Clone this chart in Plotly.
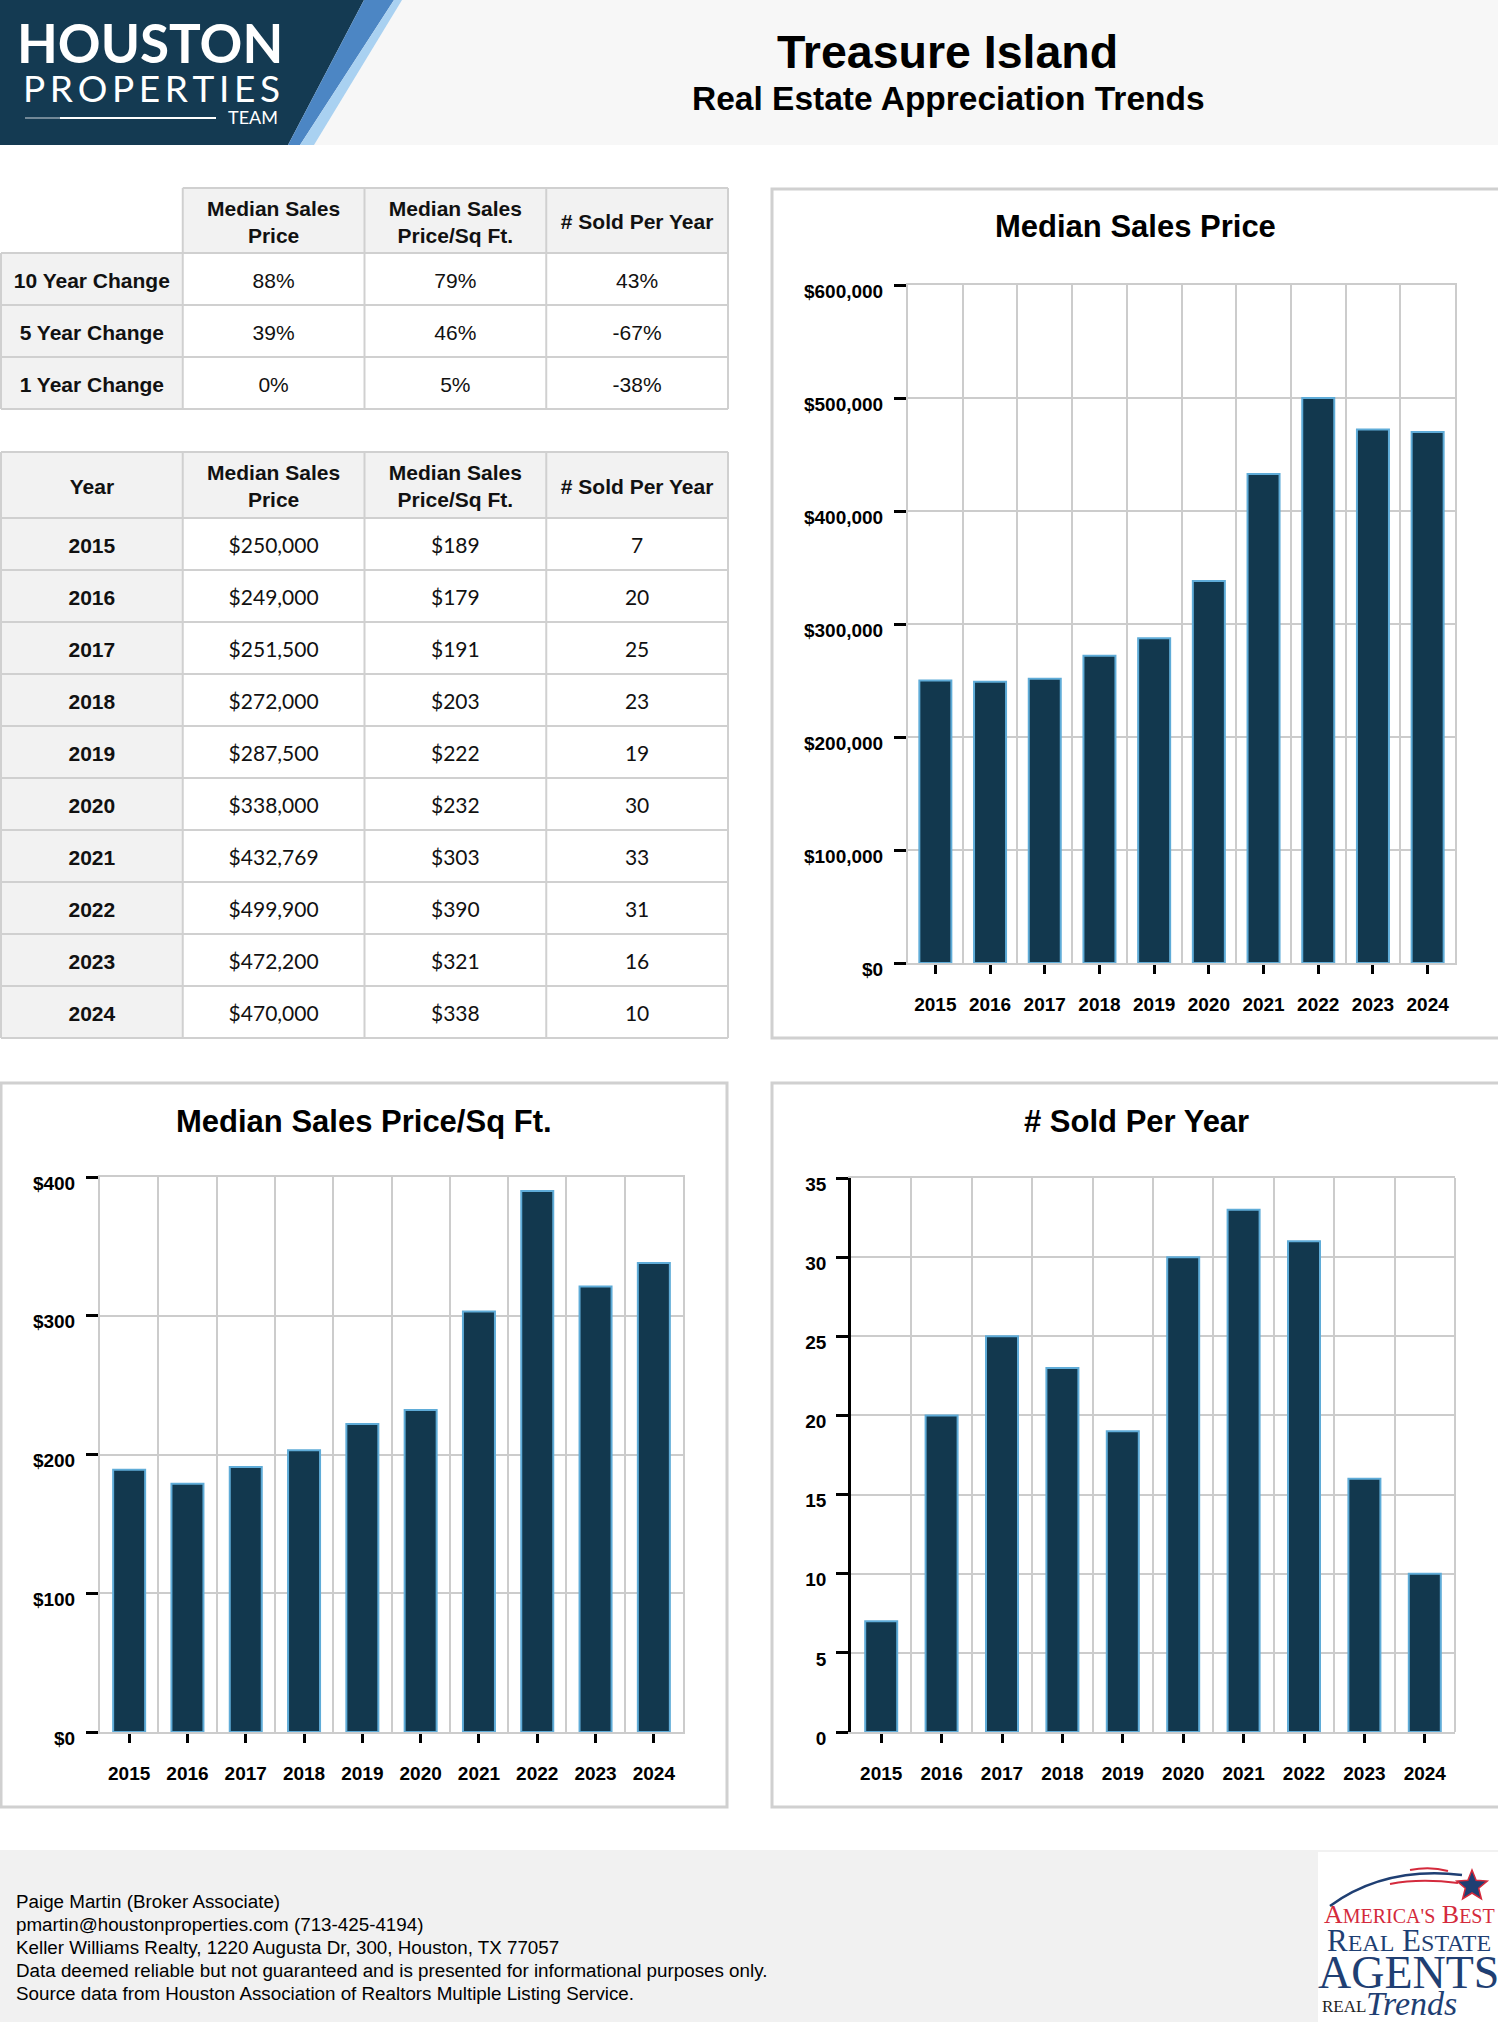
import math
import plotly.graph_objects as go

W, H = 1498, 2022

# ---------------- data ----------------
years = [2015, 2016, 2017, 2018, 2019, 2020, 2021, 2022, 2023, 2024]
median_price = [250000, 249000, 251500, 272000, 287500, 338000, 432769, 499900, 472200, 470000]
price_per_sqft = [189, 179, 191, 203, 222, 232, 303, 390, 321, 338]
sold_per_year = [7, 20, 25, 23, 19, 30, 33, 31, 16, 10]

change_periods = ["10 Year Change", "5 Year Change", "1 Year Change"]
change_price = ["88%", "39%", "0%"]
change_sqft = ["79%", "46%", "5%"]
change_sold = ["43%", "-67%", "-38%"]

metric_headers = ["Median Sales<br>Price", "Median Sales<br>Price/Sq Ft.", "# Sold Per Year"]
chart_titles = ["Median Sales Price", "Median Sales Price/Sq Ft.", "# Sold Per Year"]

footer_lines = [
    "Paige Martin (Broker Associate)",
    "pmartin@houstonproperties.com (713-425-4194)",
    "Keller Williams Realty, 1220 Augusta Dr, 300, Houston, TX 77057",
    "Data deemed reliable but not guaranteed and is presented for informational purposes only.",
    "Source data from Houston Association of Realtors Multiple Listing Service.",
]

# ---------------- style ----------------
BAR = "#12384E"
BAR_EDGE = "#5FACD8"
GRID = "#CCCCCC"
BORDER = "#D0D0D0"
HEAD_FILL = "#F2F2F2"
TXT = "#111111"
FONT = "Liberation Sans, Arial, sans-serif"
SERIF = "Liberation Serif, DejaVu Serif, serif"
LOGO_NAVY = "#143A52"
TEXT_NUDGE = 3.5  # px: visual centring of text inside table cells


def fx(x):
    return x / W


def fy(y):
    return 1 - y / H


def path(points):
    s = ""
    for i, (x, y) in enumerate(points):
        s += ("M " if i == 0 else " L ") + f"{fx(x):.5f},{fy(y):.5f}"
    return s + " Z"


fig = go.Figure()
shapes = []
annotations = []
axes = {}

# ---------------- header ----------------
shapes.append(dict(type="rect", xref="paper", yref="paper", x0=0, x1=1, y0=fy(145), y1=1,
                   fillcolor="#F7F7F7", line=dict(width=0), layer="below"))
shapes.append(dict(type="path", xref="paper", yref="paper",
                   path=path([(0, 0), (364, 0), (288, 145), (0, 145)]),
                   fillcolor=LOGO_NAVY, line=dict(width=0), layer="below"))
shapes.append(dict(type="path", xref="paper", yref="paper",
                   path=path([(364, 0), (394, 0), (300, 145), (288, 145)]),
                   fillcolor="#4C86C4", line=dict(width=0), layer="below"))
shapes.append(dict(type="path", xref="paper", yref="paper",
                   path=path([(394, 0), (402, 0), (314, 145), (300, 145)]),
                   fillcolor="#A9D1F1", line=dict(width=0), layer="below"))
shapes.append(dict(type="line", xref="paper", yref="paper", x0=fx(60), x1=fx(216), y0=fy(118), y1=fy(118),
                   line=dict(color="white", width=2), layer="below"))
shapes.append(dict(type="line", xref="paper", yref="paper", x0=fx(25), x1=fx(60), y0=fy(118), y1=fy(118),
                   line=dict(color="rgba(255,255,255,0.4)", width=2), layer="below"))

annotations += [
    dict(text="HOUSTON", x=fx(150), y=fy(42), xref="paper", yref="paper", showarrow=False,
         xanchor="center", yanchor="middle", font=dict(family="Lato, sans-serif", size=53, color="white", weight="bold")),
    dict(text="P R O P E R T I E S".replace(" ", "\u2009"), x=fx(151), y=fy(88), xref="paper", yref="paper",
         showarrow=False, xanchor="center", yanchor="middle",
         font=dict(family="Lato, sans-serif", size=37, color="white")),
    dict(text="TEAM", x=fx(253), y=fy(117), xref="paper", yref="paper", showarrow=False,
         xanchor="center", yanchor="middle", font=dict(family="Lato, sans-serif", size=18, color="white")),
    dict(text="Treasure Island", x=fx(947), y=fy(52), xref="paper", yref="paper", showarrow=False,
         xanchor="center", yanchor="middle", font=dict(family=FONT, size=46.5, color="black", weight="bold")),
    dict(text="Real Estate Appreciation Trends", x=fx(948), y=fy(99), xref="paper", yref="paper",
         showarrow=False, xanchor="center", yanchor="middle",
         font=dict(family=FONT, size=33.5, color="black", weight="bold")),
]


# ---------------- tables ----------------
def add_table(n, x0, x1, y0, header, first_col, value_cols, head_h, row_h, blank_corner, value_font):
    ncols = 1 + len(value_cols)
    nrows = len(first_col)
    edges = [0, head_h] + [head_h + row_h * (i + 1) for i in range(nrows)]
    total = edges[-1]
    xa, ya = f"x{n}", f"y{n}"
    pad = 2
    left = max(0, x0 - pad)
    ux = ncols / (x1 - x0)
    axes[f"xaxis{n}"] = dict(domain=[left / W, (x1 + pad) / W],
                             range=[-0.5 - (x0 - left) * ux, ncols - 0.5 + pad * ux],
                             visible=False, fixedrange=True, anchor=ya)
    axes[f"yaxis{n}"] = dict(domain=[fy(y0 + total + pad), fy(y0 - pad)], range=[total + pad, -pad],
                             visible=False, fixedrange=True, anchor=xa)
    z = [[1] * ncols] + [[1] + [0] * (ncols - 1) for _ in range(nrows)]
    if blank_corner:
        z[0][0] = 0
    fig.add_trace(go.Heatmap(x=list(range(ncols)), y=edges, z=z, xaxis=xa, yaxis=ya,
                             colorscale=[[0, "#FFFFFF"], [1, HEAD_FILL]], zmin=0, zmax=1,
                             showscale=False, hoverinfo="skip"))
    centers = [(edges[i] + edges[i + 1]) / 2 + TEXT_NUDGE for i in range(len(edges) - 1)]
    bx, by, bt = [], [], []
    for j, h in enumerate(header):
        if h:
            bx.append(j)
            by.append(centers[0])
            bt.append(h)
    for i, lab in enumerate(first_col):
        bx.append(0)
        by.append(centers[i + 1])
        bt.append(lab)
    fig.add_trace(go.Scatter(x=bx, y=by, text=bt, mode="text", xaxis=xa, yaxis=ya, hoverinfo="skip",
                             cliponaxis=False,
                             textfont=dict(family=FONT, size=21, color=TXT, weight="bold")))
    vx, vy, vt = [], [], []
    for j, col in enumerate(value_cols):
        for i, v in enumerate(col):
            vx.append(j + 1)
            vy.append(centers[i + 1])
            vt.append(v)
    fig.add_trace(go.Scatter(x=vx, y=vy, text=vt, mode="text", xaxis=xa, yaxis=ya, hoverinfo="skip",
                             cliponaxis=False,
                             textfont=dict(family=value_font, size=21, color=TXT)))
    for i, e in enumerate(edges):
        xs = 0.5 if (blank_corner and i == 0) else -0.5
        shapes.append(dict(type="line", xref=xa, yref=ya, x0=xs, x1=ncols - 0.5, y0=e, y1=e,
                           line=dict(color=BORDER, width=2), layer="above"))
    for j in range(ncols + 1):
        ys = edges[1] if (blank_corner and j == 0) else 0
        shapes.append(dict(type="line", xref=xa, yref=ya, x0=j - 0.5, x1=j - 0.5, y0=ys, y1=total,
                           line=dict(color=BORDER, width=2), layer="above"))


add_table(4, 1, 728, 188, [""] + metric_headers, change_periods,
          [change_price, change_sqft, change_sold], 65, 52, True, FONT)

year_labels = [str(y) for y in years]
price_txt = [f"${v:,}" for v in median_price]
sqft_txt = [f"${v}" for v in price_per_sqft]
sold_txt = [str(v) for v in sold_per_year]
add_table(5, 1, 728, 452, ["Year"] + metric_headers, year_labels,
          [price_txt, sqft_txt, sold_txt], 66, 52, False, "Lato, " + FONT)

# ---------------- bar charts ----------------
charts = [
    dict(n=1, values=median_price, box=(908, 285, 1455, 963), rng=[0, 600000], dtick=100000, prefix="$",
         title=chart_titles[0], tpos=(1135, 226), frame=(772, 189, 1502, 1038), black=False, stand=7),
    dict(n=2, values=price_per_sqft, box=(100, 1177, 683, 1732), rng=[0, 400], dtick=100, prefix="$",
         title=chart_titles[1], tpos=(364, 1121), frame=(1, 1083, 727, 1807), black=False, stand=7),
    dict(n=3, values=sold_per_year, box=(851, 1178, 1455, 1732), rng=[0, 35], dtick=5, prefix="",
         title=chart_titles[2], tpos=(1136, 1121), frame=(772, 1083, 1502, 1807), black=True, stand=6),
]

tickfont = dict(family=FONT, size=19, color="black", weight="bold")
for c in charts:
    n = c["n"]
    x0, y0, x1, y1 = c["box"]
    cat_px = (x1 - x0) / len(years)
    fig.add_trace(go.Bar(x=years, y=c["values"], xaxis=f"x{n}", yaxis=f"y{n}", width=32 / cat_px,
                         marker=dict(color=BAR, line=dict(color=BAR_EDGE, width=2)), hoverinfo="skip"))
    axes[f"xaxis{n}"] = dict(
        domain=[fx(x0), fx(x1)], anchor=f"y{n}", range=[years[0] - 0.5, years[-1] + 0.5],
        tickmode="array", tickvals=years, ticktext=[str(y) for y in years],
        ticks="outside", ticklen=9, tickwidth=2.5, tickcolor="black", showgrid=False,
        minor=dict(tickmode="array", tickvals=[y - 0.5 for y in years] + [years[-1] + 0.5],
                   showgrid=True, gridcolor=GRID, gridwidth=2, ticks=""),
        showline=True, linecolor=GRID, linewidth=2, mirror=True, zeroline=False,
        tickfont=tickfont, ticklabelstandoff=14, fixedrange=True)
    axes[f"yaxis{n}"] = dict(
        domain=[fy(y1), fy(y0)], anchor=f"x{n}", range=c["rng"], tickmode="linear", tick0=0,
        dtick=c["dtick"], tickprefix=c["prefix"], tickformat=",d",
        showgrid=True, gridcolor=GRID, gridwidth=2, ticks="outside", ticklen=12, tickwidth=3,
        tickcolor="black", showline=True, linecolor="black" if c["black"] else GRID,
        linewidth=2.5 if c["black"] else 2, mirror=not c["black"], zeroline=False,
        tickfont=tickfont, ticklabelstandoff=c["stand"], ticklabelshift=6, fixedrange=True)
    if c["black"]:
        shapes.append(dict(type="line", xref=f"x{n} domain", yref=f"y{n} domain", x0=1, x1=1, y0=0, y1=1,
                           line=dict(color=GRID, width=2)))
    fx0, fy0, fx1, fy1 = c["frame"]
    shapes.append(dict(type="rect", xref="paper", yref="paper", x0=fx(fx0), x1=fx(fx1), y0=fy(fy1), y1=fy(fy0),
                       line=dict(color=BORDER, width=3), fillcolor="rgba(0,0,0,0)", layer="below"))
    annotations.append(dict(text=c["title"], x=fx(c["tpos"][0]), y=fy(c["tpos"][1]), xref="paper", yref="paper",
                            showarrow=False, xanchor="center", yanchor="middle",
                            font=dict(family=FONT, size=31, color="black", weight="bold")))

# ---------------- footer ----------------
shapes.append(dict(type="rect", xref="paper", yref="paper", x0=0, x1=1, y0=0, y1=fy(1850),
                   fillcolor="#F1F1F1", line=dict(width=0), layer="below"))
for i, line in enumerate(footer_lines):
    annotations.append(dict(text=line, x=fx(14), y=fy(1901 + 23.2 * i), xref="paper", yref="paper",
                            showarrow=False, xanchor="left", yanchor="middle",
                            font=dict(family=FONT, size=18.8, color="black")))

# footer badge
shapes.append(dict(type="rect", xref="paper", yref="paper", x0=fx(1318), x1=1, y0=0, y1=fy(1852),
                   fillcolor="white", line=dict(width=0), layer="below"))


def curve(p0, c, p1):
    return (f"M {fx(p0[0]):.5f},{fy(p0[1]):.5f} Q {fx(c[0]):.5f},{fy(c[1]):.5f} "
            f"{fx(p1[0]):.5f},{fy(p1[1]):.5f}")


shapes.append(dict(type="path", xref="paper", yref="paper", path=curve((1330, 1906), (1385, 1866), (1462, 1875)),
                   line=dict(color="#1F3F73", width=2.5)))
shapes.append(dict(type="path", xref="paper", yref="paper", path=curve((1390, 1884), (1420, 1878), (1458, 1883)),
                   line=dict(color="#D42A3C", width=2)))
shapes.append(dict(type="path", xref="paper", yref="paper", path=curve((1410, 1870), (1430, 1866), (1448, 1871)),
                   line=dict(color="#D42A3C", width=2)))
star = []
for k in range(10):
    ang = math.radians(-90 + 36 * k)
    rr = 16 if k % 2 == 0 else 7
    star.append((1472 + rr * math.cos(ang), 1886 + rr * math.sin(ang)))
shapes.append(dict(type="path", xref="paper", yref="paper", path=path(star),
                   fillcolor="#1F3F73", line=dict(color="#D42A3C", width=1.5)))

annotations += [
    dict(text="A<span style='font-size:20px'>MERICA'S</span> B<span style='font-size:20px'>EST</span>",
         x=fx(1409), y=fy(1914), xref="paper", yref="paper", showarrow=False, xanchor="center", yanchor="middle",
         font=dict(family=SERIF, size=26, color="#D42A3C")),
    dict(text="R<span style='font-size:24px'>EAL</span> E<span style='font-size:24px'>STATE</span>",
         x=fx(1409), y=fy(1940), xref="paper", yref="paper", showarrow=False, xanchor="center", yanchor="middle",
         font=dict(family=SERIF, size=31, color="#1F3F73")),
    dict(text="AGENTS", x=fx(1408), y=fy(1972), xref="paper", yref="paper", showarrow=False,
         xanchor="center", yanchor="middle", font=dict(family=SERIF, size=46, color="#1F3F73")),
    dict(text="REAL", x=fx(1320), y=fy(2006), xref="paper", yref="paper", showarrow=False,
         xanchor="left", yanchor="middle", font=dict(family=SERIF, size=17, color="#222222")),
    dict(text="<i>Trends</i>", x=fx(1364), y=fy(2003), xref="paper", yref="paper", showarrow=False,
         xanchor="left", yanchor="middle", font=dict(family=SERIF, size=34, color="#1F3F73")),
]

fig.update_layout(
    width=W, height=H, margin=dict(l=0, r=0, t=0, b=0, autoexpand=False),
    paper_bgcolor="white", plot_bgcolor="white", showlegend=False, hovermode=False,
    shapes=shapes, annotations=annotations, **axes)

fig.write_html("out.html", include_plotlyjs=True, config={"displayModeBar": False},
               post_script="document.body.style.margin='0';document.body.style.overflow='hidden';")
